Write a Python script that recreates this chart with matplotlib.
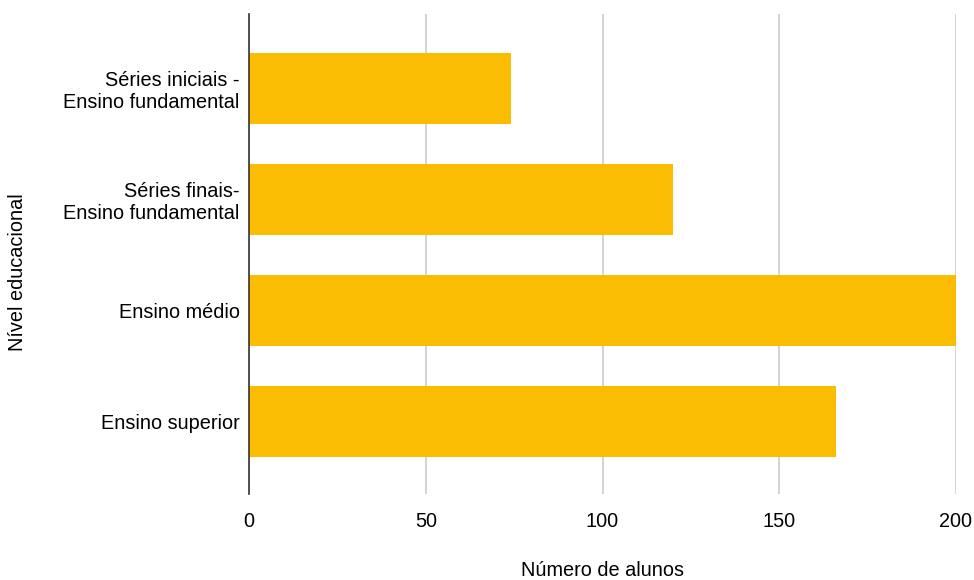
import matplotlib.pyplot as plt

plt.rcParams['font.family'] = ['Liberation Sans', 'DejaVu Sans']

# número de alunos por nível educacional
niveis = ['Séries iniciais -\nEnsino fundamental', 'Séries finais-\nEnsino fundamental',
          'Ensino médio', 'Ensino superior']
alunos = [74, 120, 200, 166]
x_ticks = [0, 50, 100, 150, 200]

fig = plt.figure(figsize=(9.74, 5.8), dpi=100)
ax = fig.add_axes([249 / 974, 1 - 494 / 580, (956 - 249) / 974, (494 - 14) / 580])

pos = list(range(len(niveis)))
ax.barh(pos, alunos, height=0.64, color='#FBBC04', zorder=2)

ax.set_ylim(3.655, -0.67)
ax.set_xlim(0, 200)
ax.set_xticks(x_ticks)
ax.set_yticks(pos)
ax.set_yticklabels(niveis, fontsize=14.3, color='#000000')
ax.tick_params(axis='y', length=0, pad=6.8)
ax.tick_params(axis='x', length=0, pad=13, labelsize=14.3, labelcolor='#000000')

ax.grid(axis='x', color='#cccccc', linewidth=1.2, zorder=0)
for s in ['top', 'right', 'bottom']:
    ax.spines[s].set_visible(False)
ax.spines['left'].set_color('#333333')
ax.spines['left'].set_linewidth(1.2)
ax.spines['left'].set_zorder(3)

fig.text(602.5 / 974, 1 - 571 / 580, 'Número de alunos', ha='center', va='center', fontsize=14.3)
fig.text(18 / 974, 1 - 272 / 580, 'Nível educacional', ha='center', va='center',
         rotation=90, fontsize=14.3)

fig.savefig('out.png', dpi=100)
